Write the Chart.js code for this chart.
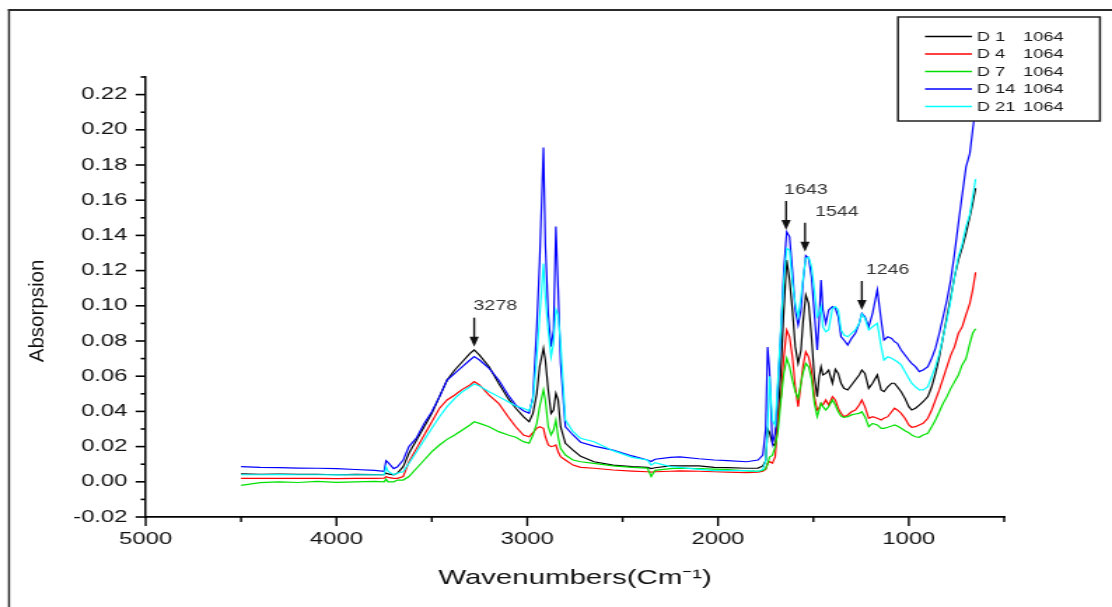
<!DOCTYPE html>
<html>
<head>
<meta charset="utf-8">
<title>FTIR spectra</title>
<script src="https://cdn.jsdelivr.net/npm/chart.js@4.4.0/dist/chart.umd.min.js"></script>
<style>
  html, body { margin: 0; padding: 0; background: #fff; }
  #chart { display: block; }
</style>
</head>
<body>
<canvas id="chart" width="794" height="607" style="width:1112px;height:607px"></canvas>
<script>
// the original picture is stretched sideways, so the canvas is drawn narrow and widened by css
const STRETCH = 1112 / 794;

const wavenumbers = [
  4500, 4400, 4300, 4200, 4100, 4000, 3900, 3800, 3750, 3740,
  3730, 3700, 3680, 3650, 3620, 3580, 3540, 3500, 3460, 3420,
  3380, 3340, 3300, 3278, 3250, 3200, 3150, 3100, 3060, 3020,
  2990, 2970, 2950, 2935, 2915, 2905, 2890, 2875, 2862, 2850,
  2838, 2825, 2800, 2760, 2720, 2650, 2550, 2450, 2370, 2350,
  2330, 2250, 2200, 2100, 2020, 1950, 1850, 1790, 1765, 1750,
  1740, 1730, 1715, 1700, 1685, 1670, 1655, 1640, 1625, 1610,
  1595, 1580, 1565, 1555, 1540, 1525, 1510, 1495, 1480, 1470,
  1460, 1450, 1435, 1420, 1400, 1385, 1370, 1355, 1340, 1320,
  1300, 1280, 1260, 1246, 1230, 1210, 1190, 1165, 1145, 1130,
  1110, 1090, 1075, 1060, 1040, 1020, 1000, 985, 965, 945,
  925, 900, 880, 860, 840, 820, 800, 780, 760, 740,
  720, 700, 680, 665, 650
];

const seriesNames = ['D 1', 'D 4', 'D 7', 'D 14', 'D 21'];
const laserLine = '1064';
const seriesColors = ['#000000', '#ff0000', '#00e000', '#0000ff', '#00ffff'];

const d1 = [
  0.0045, 0.0043, 0.0044, 0.0042, 0.0043, 0.0040, 0.0042, 0.0041, 0.0040, 0.0050,
  0.0045, 0.0040, 0.0050, 0.0086, 0.0162, 0.0237, 0.0313, 0.0389, 0.0484, 0.0578,
  0.0635, 0.0682, 0.0730, 0.0749, 0.0720, 0.0654, 0.0560, 0.0474, 0.0418, 0.0370,
  0.0341, 0.0389, 0.0500, 0.0654, 0.0758, 0.0692, 0.0522, 0.0389, 0.0408, 0.0503,
  0.0465, 0.0313, 0.0219, 0.0180, 0.0145, 0.0114, 0.0095, 0.0086, 0.0082, 0.0075,
  0.0080, 0.0090, 0.0090, 0.0090, 0.0082, 0.0080, 0.0077, 0.0078, 0.0090, 0.0120,
  0.0300, 0.0280, 0.0220, 0.0200, 0.0370, 0.0635, 0.0976, 0.1260, 0.1147, 0.0976,
  0.0768, 0.0673, 0.0749, 0.0900, 0.1061, 0.1014, 0.0824, 0.0597, 0.0484, 0.0597,
  0.0654, 0.0607, 0.0616, 0.0635, 0.0560, 0.0639, 0.0616, 0.0560, 0.0531, 0.0522,
  0.0550, 0.0578, 0.0607, 0.0635, 0.0616, 0.0531, 0.0560, 0.0607, 0.0522, 0.0512,
  0.0540, 0.0560, 0.0560, 0.0540, 0.0512, 0.0474, 0.0427, 0.0408, 0.0418, 0.0436,
  0.0455, 0.0484, 0.0540, 0.0616, 0.0710, 0.0824, 0.0938, 0.1050, 0.1165, 0.1260,
  0.1330, 0.1412, 0.1506, 0.1580, 0.1668
];

const d4 = [
  0.0020, 0.0019, 0.0020, 0.0019, 0.0020, 0.0018, 0.0020, 0.0019, 0.0020, 0.0030,
  0.0025, 0.0020, 0.0020, 0.0030, 0.0114, 0.0190, 0.0266, 0.0341, 0.0418, 0.0465,
  0.0493, 0.0525, 0.0550, 0.0569, 0.0550, 0.0493, 0.0446, 0.0370, 0.0313, 0.0266,
  0.0256, 0.0279, 0.0304, 0.0313, 0.0304, 0.0256, 0.0209, 0.0200, 0.0203, 0.0209,
  0.0171, 0.0143, 0.0124, 0.0095, 0.0082, 0.0077, 0.0067, 0.0061, 0.0057, 0.0055,
  0.0057, 0.0060, 0.0062, 0.0060, 0.0057, 0.0055, 0.0052, 0.0055, 0.0060, 0.0070,
  0.0105, 0.0115, 0.0105, 0.0143, 0.0370, 0.0484, 0.0710, 0.0863, 0.0824, 0.0710,
  0.0540, 0.0427, 0.0560, 0.0654, 0.0739, 0.0710, 0.0635, 0.0484, 0.0408, 0.0418,
  0.0446, 0.0436, 0.0465, 0.0436, 0.0484, 0.0465, 0.0418, 0.0389, 0.0370, 0.0380,
  0.0398, 0.0408, 0.0436, 0.0465, 0.0427, 0.0361, 0.0370, 0.0361, 0.0351, 0.0361,
  0.0370, 0.0398, 0.0418, 0.0408, 0.0389, 0.0361, 0.0323, 0.0310, 0.0313, 0.0323,
  0.0332, 0.0361, 0.0408, 0.0465, 0.0522, 0.0588, 0.0654, 0.0720, 0.0768, 0.0844,
  0.0880, 0.0950, 0.1014, 0.1090, 0.1190
];

const d7 = [
  -0.0020, -0.0005, 0.0000, -0.0004, 0.0002, -0.0003, 0.0000, 0.0002, 0.0000, 0.0015,
  0.0000, 0.0000, 0.0010, 0.0010, 0.0030, 0.0077, 0.0124, 0.0171, 0.0209, 0.0241,
  0.0266, 0.0294, 0.0323, 0.0341, 0.0332, 0.0313, 0.0285, 0.0266, 0.0253, 0.0228,
  0.0219, 0.0266, 0.0332, 0.0427, 0.0522, 0.0465, 0.0313, 0.0266, 0.0294, 0.0351,
  0.0256, 0.0190, 0.0152, 0.0124, 0.0114, 0.0105, 0.0090, 0.0082, 0.0078, 0.0030,
  0.0065, 0.0075, 0.0077, 0.0075, 0.0072, 0.0070, 0.0062, 0.0060, 0.0065, 0.0075,
  0.0100, 0.0140, 0.0150, 0.0200, 0.0294, 0.0465, 0.0616, 0.0702, 0.0654, 0.0578,
  0.0512, 0.0474, 0.0560, 0.0616, 0.0673, 0.0654, 0.0588, 0.0446, 0.0370, 0.0408,
  0.0446, 0.0427, 0.0408, 0.0427, 0.0465, 0.0436, 0.0398, 0.0374, 0.0366, 0.0370,
  0.0380, 0.0385, 0.0389, 0.0398, 0.0370, 0.0313, 0.0332, 0.0323, 0.0304, 0.0304,
  0.0310, 0.0317, 0.0323, 0.0317, 0.0304, 0.0290, 0.0279, 0.0266, 0.0256, 0.0253,
  0.0266, 0.0276, 0.0313, 0.0351, 0.0398, 0.0446, 0.0484, 0.0531, 0.0569, 0.0607,
  0.0664, 0.0700, 0.0787, 0.0844, 0.0870
];

const d14 = [
  0.0086, 0.0082, 0.0080, 0.0078, 0.0077, 0.0075, 0.0070, 0.0065, 0.0060, 0.0120,
  0.0110, 0.0075, 0.0085, 0.0124, 0.0200, 0.0250, 0.0332, 0.0398, 0.0484, 0.0578,
  0.0616, 0.0654, 0.0692, 0.0711, 0.0692, 0.0645, 0.0578, 0.0493, 0.0436, 0.0404,
  0.0389, 0.0480, 0.0880, 0.1250, 0.1900, 0.1350, 0.0957, 0.0768, 0.0860, 0.1450,
  0.1100, 0.0673, 0.0313, 0.0266, 0.0225, 0.0203, 0.0180, 0.0147, 0.0124, 0.0115,
  0.0128, 0.0139, 0.0142, 0.0131, 0.0124, 0.0120, 0.0114, 0.0124, 0.0152, 0.0300,
  0.0766, 0.0635, 0.0219, 0.0276, 0.0560, 0.0862, 0.1203, 0.1420, 0.1393, 0.1200,
  0.0976, 0.0891, 0.0976, 0.1128, 0.1285, 0.1270, 0.1165, 0.0957, 0.0749, 0.0920,
  0.1147, 0.0976, 0.0900, 0.0976, 0.0995, 0.0986, 0.0938, 0.0824, 0.0806, 0.0777,
  0.0815, 0.0844, 0.0900, 0.0957, 0.0938, 0.0881, 0.0957, 0.1090, 0.0920, 0.0806,
  0.0824, 0.0815, 0.0796, 0.0787, 0.0749, 0.0720, 0.0692, 0.0673, 0.0654, 0.0626,
  0.0635, 0.0654, 0.0702, 0.0759, 0.0844, 0.0938, 0.1033, 0.1147, 0.1298, 0.1469,
  0.1630, 0.1790, 0.1866, 0.2000, 0.2120
];

const d21 = [
  0.0040, 0.0040, 0.0041, 0.0040, 0.0040, 0.0039, 0.0040, 0.0040, 0.0040, 0.0085,
  0.0060, 0.0040, 0.0050, 0.0057, 0.0105, 0.0171, 0.0237, 0.0304, 0.0370, 0.0427,
  0.0474, 0.0512, 0.0540, 0.0556, 0.0544, 0.0512, 0.0484, 0.0455, 0.0431, 0.0418,
  0.0404, 0.0465, 0.0710, 0.0938, 0.1240, 0.1050, 0.0860, 0.0710, 0.0787, 0.0980,
  0.0950, 0.0787, 0.0351, 0.0285, 0.0247, 0.0228, 0.0177, 0.0139, 0.0124, 0.0095,
  0.0109, 0.0086, 0.0082, 0.0071, 0.0063, 0.0063, 0.0063, 0.0060, 0.0070, 0.0120,
  0.0300, 0.0600, 0.0350, 0.0320, 0.0597, 0.0881, 0.1147, 0.1327, 0.1317, 0.1130,
  0.1014, 0.0938, 0.1050, 0.1147, 0.1270, 0.1276, 0.1222, 0.1090, 0.0938, 0.0957,
  0.0995, 0.0881, 0.0853, 0.0863, 0.0986, 0.0995, 0.0976, 0.0863, 0.0834, 0.0824,
  0.0844, 0.0863, 0.0900, 0.0953, 0.0929, 0.0863, 0.0881, 0.0900, 0.0768, 0.0692,
  0.0710, 0.0702, 0.0692, 0.0682, 0.0664, 0.0626, 0.0588, 0.0560, 0.0540, 0.0522,
  0.0522, 0.0540, 0.0597, 0.0654, 0.0730, 0.0824, 0.0920, 0.1033, 0.1165, 0.1279,
  0.1350, 0.1450, 0.1520, 0.1620, 0.1720
];

const xTicks = [5000, 4000, 3000, 2000, 1000];
const xMinorTicks = [4500, 3500, 2500, 1500, 500];
const yTicks = [-0.02, 0, 0.02, 0.04, 0.06, 0.08, 0.10, 0.12, 0.14, 0.16, 0.18, 0.20, 0.22];
const yMinorTicks = [-0.01, 0.01, 0.03, 0.05, 0.07, 0.09, 0.11, 0.13, 0.15, 0.17, 0.19, 0.21, 0.23];

// marked peaks: label (wavenumber) and absorbance where the arrow tip sits
const peakLabels = ['3278', '1643', '1544', '1246'];
const peakTips = [0.0768, 0.1431, 0.1307, 0.0976];

const FONT = "'Liberation Sans', Arial, sans-serif";

function hline(ctx, x1, y1, x2, y2) {
  ctx.beginPath();
  ctx.moveTo(x1, y1);
  ctx.lineTo(x2, y2);
  ctx.stroke();
}

const decor = {
  id: 'decor',
  beforeDraw(chart) {
    const ctx = chart.ctx;
    // outer frame, only left and top edges fall inside the picture
    ctx.save();
    ctx.fillStyle = '#2b2b2b';
    ctx.fillRect(8 / STRETCH, 9, chart.width, 2);
    ctx.fillRect(8 / STRETCH, 9, 2 / STRETCH, chart.height);
    ctx.restore();
  },
  afterDatasetsDraw(chart) {
    const ctx = chart.ctx;
    const xs = chart.scales.x, ys = chart.scales.y;
    const area = chart.chartArea;
    ctx.save();
    ctx.strokeStyle = '#000';
    // tick marks, outward
    ctx.lineWidth = 1.4;
    xTicks.forEach(v => { const p = xs.getPixelForValue(v); hline(ctx, p, area.bottom, p, area.bottom + 9); });
    xMinorTicks.forEach(v => { const p = xs.getPixelForValue(v); hline(ctx, p, area.bottom, p, area.bottom + 5); });
    ctx.lineWidth = 1.6;
    yTicks.forEach(v => { const p = ys.getPixelForValue(v); hline(ctx, area.left - 10 / STRETCH, p, area.left, p); });
    yMinorTicks.forEach(v => { const p = ys.getPixelForValue(v); hline(ctx, area.left - 5 / STRETCH, p, area.left, p); });

    // peak arrows
    const labelShift = [-0.7, -2, 10, 4];
    ctx.strokeStyle = '#111';
    ctx.fillStyle = '#111';
    ctx.font = '14px ' + FONT;
    ctx.textBaseline = 'middle';
    ctx.textAlign = 'left';
    peakLabels.forEach((lab, i) => {
      const px = xs.getPixelForValue(Number(lab));
      const tip = ys.getPixelForValue(peakTips[i]);
      ctx.lineWidth = 1.4;
      hline(ctx, px, tip - 29, px, tip - 8);
      ctx.beginPath();
      ctx.moveTo(px - 3.3, tip - 10);
      ctx.lineTo(px + 3.3, tip - 10);
      ctx.lineTo(px, tip);
      ctx.closePath();
      ctx.fill();
      ctx.fillStyle = '#333';
      ctx.fillText(lab, px + labelShift[i] / STRETCH, tip - 40);
      ctx.fillStyle = '#111';
    });
    ctx.restore();
  },
  afterDraw(chart) {
    const ctx = chart.ctx;
    ctx.save();
    // legend box
    const bx = 898 / STRETCH, bw = (1100 - 898) / STRETCH;
    ctx.fillStyle = '#fff';
    ctx.fillRect(bx, 17, bw, 104);
    ctx.strokeStyle = '#222';
    ctx.lineWidth = 1.5;
    ctx.strokeRect(bx, 17, bw, 104);
    ctx.font = '13px ' + FONT;
    ctx.textBaseline = 'middle';
    ctx.textAlign = 'left';
    chart.data.datasets.forEach((ds, i) => {
      const y = 36.5 + i * 17.5;
      ctx.strokeStyle = ds.borderColor;
      ctx.lineWidth = 1.3;
      hline(ctx, 925 / STRETCH, y, 972 / STRETCH, y);
      ctx.fillStyle = '#1a1a1a';
      ctx.fillText(seriesNames[i], 977 / STRETCH, y + 0.5);
      ctx.fillText(laserLine, 1023 / STRETCH, y + 0.5);
    });

    // y axis title, kept unstretched like in the source
    ctx.translate(37.5 / STRETCH, 311);
    ctx.scale(1 / STRETCH, 1);
    ctx.rotate(-Math.PI / 2);
    ctx.fillStyle = '#111';
    ctx.font = '20.5px ' + FONT;
    ctx.textAlign = 'center';
    ctx.textBaseline = 'middle';
    ctx.fillText('Absorpsion', 0, 0);
    ctx.restore();
  }
};

const datasets = [d1, d4, d7, d14, d21].map((vals, i) => ({
  label: seriesNames[i] + ' ' + laserLine,
  data: wavenumbers.map((w, k) => ({ x: w, y: vals[k] })),
  borderColor: seriesColors[i],
  backgroundColor: seriesColors[i],
  borderWidth: 1.2,
  pointRadius: 0,
  tension: 0,
  fill: false,
  order: 5 - i
}));

new Chart(document.getElementById('chart'), {
  type: 'line',
  data: { datasets: datasets },
  plugins: [decor],
  options: {
    responsive: false,
    animation: false,
    devicePixelRatio: 1,
    layout: { padding: { top: 77, right: 77, bottom: 0, left: 0 } },
    plugins: {
      legend: { display: false },
      tooltip: { enabled: false }
    },
    scales: {
      x: {
        type: 'linear',
        reverse: true,
        min: 500,
        max: 5000,
        afterBuildTicks: (scale) => { scale.ticks = xTicks.map(v => ({ value: v })); },
        afterFit: (scale) => { scale.height = 90; },
        grid: { display: false, drawTicks: false },
        border: { display: true, color: '#000', width: 1.8 },
        ticks: {
          padding: 12,
          maxRotation: 0,
          autoSkip: false,
          color: '#111',
          font: { family: FONT, size: 17 },
          callback: (v) => String(v)
        },
        title: {
          display: true,
          text: 'Wavenumbers(Cm\u207B\u00B9)',
          color: '#111',
          font: { family: FONT, size: 21 },
          padding: { top: 0, bottom: 16 }
        }
      },
      y: {
        type: 'linear',
        min: -0.02,
        max: 0.23,
        afterBuildTicks: (scale) => { scale.ticks = yTicks.map(v => ({ value: v })); },
        afterFit: (scale) => { scale.width = 104; },
        grid: { display: false, drawTicks: false },
        border: { display: true, color: '#000', width: 1.5 },
        ticks: {
          padding: 13,
          color: '#111',
          font: { family: FONT, size: 17 },
          callback: (v) => v.toFixed(2)
        },
        title: { display: false }
      }
    }
  }
});
</script>
</body>
</html>
